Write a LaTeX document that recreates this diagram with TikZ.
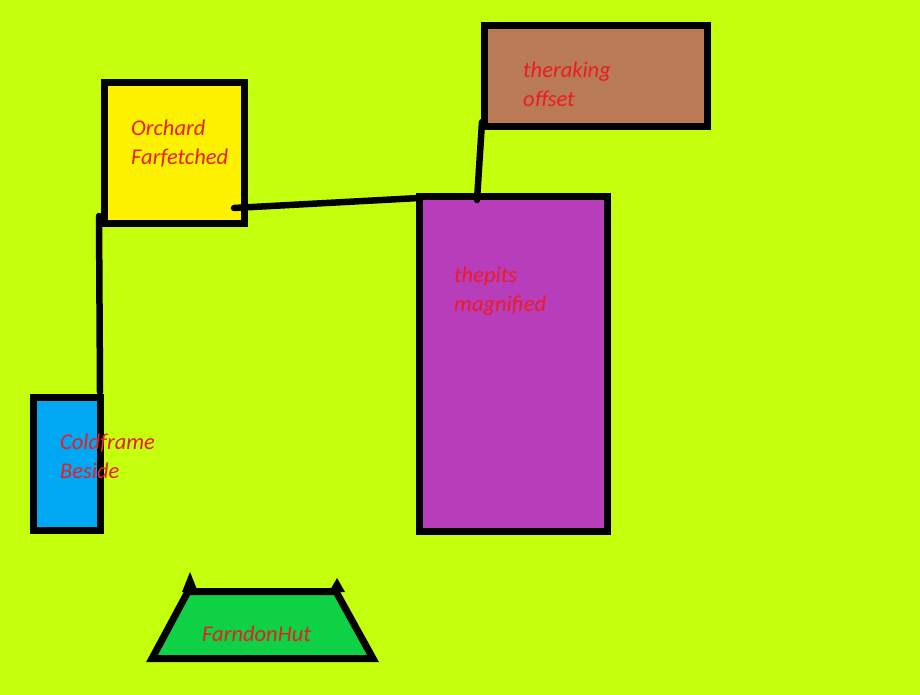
\documentclass[tikz,border=0pt]{standalone}
\usepackage{fontspec}
\setmainfont{Carlito}
\usepackage{xcolor}
\usepackage{tikz}
\usetikzlibrary{positioning,arrows.meta}

\definecolor{limebg}{HTML}{C4FF0E}
\definecolor{orchardfill}{HTML}{FFF200}
\definecolor{rakefill}{HTML}{B97A56}
\definecolor{pitsfill}{HTML}{B83DBA}
\definecolor{coldfill}{HTML}{00A8F3}
\definecolor{hutfill}{HTML}{0ED145}
\definecolor{labelred}{HTML}{EC1C24}

\begin{document}
\begin{tikzpicture}
		[x=1pt,y=-1pt,
		box/.style={draw=black,line width=7pt,rectangle,inner sep=0pt},
		lbl/.style={text=labelred,font=\itshape\fontsize{22.5}{29}\selectfont,
			align=left,anchor=base west,inner sep=0pt},
		link/.style={draw=black,line width=6.5pt,line cap=round}]
		% background and page size
		\fill[limebg] (0,0) rectangle (920,695);
		\useasboundingbox (0,0) rectangle (920,695);
		% boxes
		\node[box,fill=orchardfill,minimum width=140pt,minimum height=141pt] (orchard) at (174.5,153) {};
		\node[box,fill=rakefill,minimum width=223pt,minimum height=101pt] (rake) at (596,76) {};
		\node[box,fill=pitsfill,minimum width=188pt,minimum height=335pt] (pits) at (513.5,364) {};
		\node[box,fill=coldfill,minimum width=67pt,minimum height=133pt] (cold) at (67,464) {};
		% hut
		\draw[fill=hutfill,line width=7pt,line join=miter]
			(152,658.5) coordinate (hutsw) -- (188,591.5) coordinate (hutnw)
			-- (336,591.5) coordinate (hutne) -- (373,658.5) coordinate (hutse) -- cycle;
		\fill (182,592) -- (190,572) -- (198,592) -- cycle;
		\fill (329,592) -- (337,578) -- (345,592) -- cycle;
		% links
		\draw[link] ([xshift=-2pt,yshift=11pt]orchard.south west) -- ([xshift=-4pt,yshift=2pt]cold.north east);
		\draw[link] ([xshift=-14pt,yshift=19pt]orchard.south east) -- ([xshift=3pt,yshift=-5pt]pits.north west);
		\draw[link] ([xshift=1pt,yshift=8pt]rake.south west) -- ([xshift=61pt,yshift=-7pt]pits.north west);
		% labels (base anchor sits on the last line)
		\node[lbl] (orchardtxt) at (131,165) {Orchard\\Farfetched};
		\node[lbl] (raketxt) at (523,107) {theraking\\offset};
		\node[lbl] (pitstxt) at (454,311) {thepits\\magnified};
		\node[lbl] (coldtxt) at (60,478) {Coldframe\\Beside};
		\node[lbl] (huttxt) at (202,641) {FarndonHut};
\end{tikzpicture}
\end{document}
